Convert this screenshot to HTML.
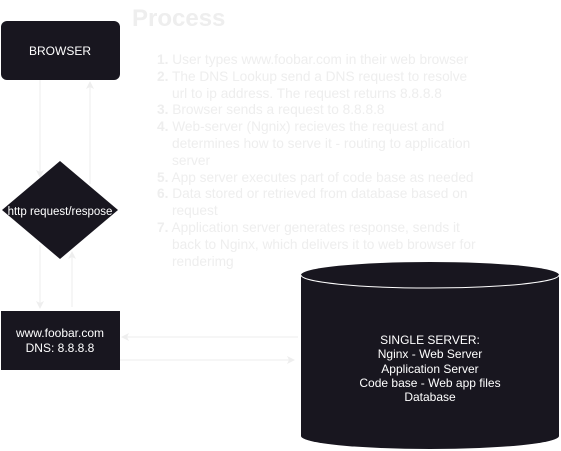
<!DOCTYPE html>
<html><head><style>
html,body{margin:0;padding:0;background:#fff;}
body{width:561px;height:451px;position:relative;overflow:hidden;font-family:"Liberation Sans",Arial,sans-serif;}
.t{position:absolute;color:#eeeeee;}
</style></head><body>
<svg width="561" height="451" style="position:absolute;left:0;top:0" font-family="Liberation Sans, Arial, sans-serif">
<defs><marker id="a" markerWidth="8" markerHeight="8" refX="7" refY="4" orient="auto" markerUnits="userSpaceOnUse"><path d="M0,0 L8,4 L0,8 L2,4z" fill="#eeeeee"/></marker></defs>
<g stroke="#eeeeee" stroke-width="1" fill="none">
<line x1="40" y1="80" x2="40" y2="177" marker-end="url(#a)"/>
<line x1="90" y1="184" x2="90" y2="82" marker-end="url(#a)"/>
<line x1="40" y1="245" x2="40" y2="308" marker-end="url(#a)"/>
<line x1="72" y1="307" x2="72" y2="252" marker-end="url(#a)"/>
<line x1="298" y1="337" x2="122" y2="337" marker-end="url(#a)"/>
<line x1="120" y1="360" x2="294" y2="360" marker-end="url(#a)"/>
</g>
<rect x="1" y="21" width="119" height="59" rx="6" fill="#18161f"/>
<text x="60" y="55" fill="#fff" font-size="12" text-anchor="middle">BROWSER</text>
<polygon points="60,161 118,210 60,259 2,210" fill="#18161f"/>
<text x="60" y="215" fill="#fff" font-size="11.5" text-anchor="middle">http request/respose</text>
<rect x="1" y="311" width="119" height="59" fill="#18161f"/>
<text x="60" y="337" fill="#fff" font-size="12" text-anchor="middle">www.foobar.com</text>
<text x="60" y="352" fill="#fff" font-size="12" text-anchor="middle">DNS: 8.8.8.8</text>
<path d="M301,275 A129,13 0 0 1 559,275 L559,436 A129,13 0 0 1 301,436 Z" fill="#18161f"/>
<path d="M301,275 A129,13 0 0 0 559,275" fill="none" stroke="#fff" stroke-width="1"/>
<g fill="#fff" font-size="12" text-anchor="middle">
<text x="430" y="344">SINGLE SERVER:</text>
<text x="430" y="358">Nginx - Web Server</text>
<text x="430" y="373">Application Server</text>
<text x="430" y="387">Code base - Web app files</text>
<text x="430" y="401">Database</text>
</g>
</svg>
<div class="t" style="left:132px;top:5px;font-size:24px;font-weight:bold;">Process</div>
<div class="t" style="left:157px;top:52px;font-size:13.7px;line-height:16.8px;width:360px;white-space:nowrap;">
<div><b>1.</b> User types www.foobar.com in their web browser</div>
<div><b>2.</b> The DNS Lookup send a DNS request to resolve<br><span style="padding-left:15px">url to ip address. The request returns 8.8.8.8</span></div>
<div><b>3.</b> Browser sends a request to 8.8.8.8</div>
<div><b>4.</b> Web-server (Ngnix) recieves the request and<br><span style="padding-left:15px">determines how to serve it - routing to application</span><br><span style="padding-left:15px">server</span></div>
<div><b>5.</b> App server executes part of code base as needed</div>
<div><b>6.</b> Data stored or retrieved from database based on<br><span style="padding-left:15px">request</span></div>
<div><b>7.</b> Application server generates response, sends it<br><span style="padding-left:15px">back to Nginx, which delivers it to web browser for</span><br><span style="padding-left:15px">renderimg</span></div>
</div>
</body></html>
